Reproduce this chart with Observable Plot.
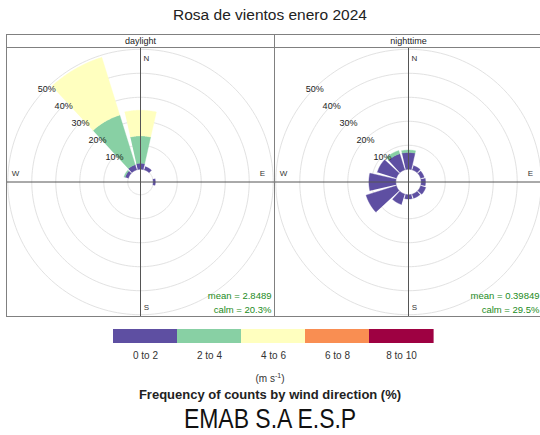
<!DOCTYPE html>
<html><head><meta charset="utf-8">
<script src="https://cdn.jsdelivr.net/npm/d3@7"></script>
<script src="https://cdn.jsdelivr.net/npm/@observablehq/plot@0.6"></script>
<style>
body{margin:0;background:#fff;font-family:"Liberation Sans",Arial,sans-serif;width:540px;height:435px;overflow:hidden;position:relative;color:#222}
.abs{position:absolute;white-space:nowrap}
#legend line{stroke:none}
#legend rect{width:64.6px}
</style></head><body>
<div id="title" class="abs" style="left:0;width:540px;text-align:center;top:7px;font-size:15.5px;line-height:15.5px">Rosa de vientos enero 2024</div>
<div id="p0" class="abs" style="left:5px;top:33px;width:270px"></div>
<div id="p1" class="abs" style="left:273px;top:33px;width:270px"></div>
<div id="legend" class="abs" style="left:111px;top:329px;width:324px"></div>
<div class="abs" style="left:0;width:540px;text-align:center;top:371px;font-size:10px;line-height:10px;color:#333">(m s<sup style="font-size:7px;vertical-align:4px">-1</sup>)</div>
<div class="abs" style="left:0;width:540px;text-align:center;top:388px;font-size:13px;line-height:13px;font-weight:bold">Frequency of counts by wind direction (%)</div>
<div class="abs" style="left:0;width:540px;text-align:center;top:405px;font-size:28px;line-height:28px;color:#111"><span style="display:inline-block;transform:scaleX(0.82)">EMAB S.A E.S.P</span></div>
<script>
// ---- data ----
const directions = [0, 30, 60, 90, 120, 150, 180, 210, 240, 270, 300, 330];
const speedBins = ["0 to 2", "2 to 4", "4 to 6", "6 to 8", "8 to 10"];
const speedColors = ["#5E4FA2", "#88D0A4", "#FFFFBF", "#F98E52", "#9E0142"];
const panels = ["daylight", "nighttime"];
const meanSpeed = ["2.8489", "0.39849"];
const calmPct = ["20.3%", "29.5%"];
const ringPct = [10, 20, 30, 40, 50];
const compass = ["N", "E", "S", "W"];
// frequency (%) by direction, one array per speed bin
const day0to2   = [2.5, 1.4, 0, 0.9, 0, 0, 0, 0, 0, 0, 1.4, 2.2];
const day2to4   = [11.4, 0, 0, 0, 0, 0, 0, 0, 0, 0, 0.5, 21.7];
const day4to6   = [10.7, 0, 0, 0, 0, 0, 0, 0, 0, 0, 0, 25.2];
const night0to2 = [7.0, 1.8, 1.5, 1.8, 2.2, 1.8, 1.8, 4.5, 13.2, 11.2, 8.3, 7.0];
const night2to4 = [1.0, 0, 0, 0, 0, 0, 0, 0, 0, 0, 0, 1.4];
const night4to6 = [0, 0, 0, 0, 0, 0, 0, 0, 0, 0, 0, 0];
const zeros     = [0, 0, 0, 0, 0, 0, 0, 0, 0, 0, 0, 0];
const panelSeries = [
  [day0to2, day2to4, day4to6, zeros, zeros],
  [night0to2, night2to4, night4to6, zeros, zeros]
];

// ---- geometry helpers ----
const K = 2.4;        // px per percent
const OFF = 5.3;      // inner (calm) offset, in percent units
const HALF = 12.75;   // half wedge width (deg)
function polar(r, deg) { const a = deg * Math.PI / 180; return {x: r * Math.sin(a), y: r * Math.cos(a)}; }

const W = 270, H = 284, M = 1;
const plotW = W - 2 * M, plotH = H - 2 * M;
const stripPx = 13;
const centerFromTop = stripPx + (plotH - stripPx) / 2;
const yTop = centerFromTop / K, yBottom = -(plotH - centerFromTop) / K;
const xHalf = plotW / 2 / K;
const stripY = (centerFromTop - stripPx) / K;

const ringPts = [];
for (const p of [0, ...ringPct]) for (let t = 0; t <= 360; t += 2) ringPts.push({ring: p, ...polar(OFF + p, t)});

function wedges(series) {
  const out = [];
  directions.forEach((dir, i) => {
    let cum = 0;
    series.forEach((s, j) => {
      const v = s[i];
      if (v > 0) {
        const lo = cum, hi = cum + v, id = i + "-" + j;
        for (let t = dir - HALF; t <= dir + HALF + 1e-9; t += 0.5) out.push({id, bin: speedBins[j], ...polar(OFF + hi, t)});
        for (let t = dir + HALF; t >= dir - HALF - 1e-9; t -= 0.5) out.push({id, bin: speedBins[j], ...polar(OFF + lo, t)});
        cum = hi;
      }
    });
  });
  return out;
}

const compassPos = {N: [6, 123.5], E: [122, 8.5], S: [6, -125.5], W: [-125, 8.5]};

function panel(i) {
  return Plot.plot({
    width: W, height: H, marginTop: M, marginBottom: M, marginLeft: M, marginRight: M,
    x: {domain: [-xHalf, xHalf], axis: null},
    y: {domain: [yBottom, yTop], axis: null},
    color: {domain: speedBins, range: speedColors},
    style: {fontFamily: "Liberation Sans, Arial, sans-serif", fontSize: "9px", background: "transparent", overflow: "visible"},
    marks: [
      Plot.line(ringPts, {x: "x", y: "y", z: "ring", stroke: "#e2e2e2", strokeWidth: 1}),
      Plot.line(wedges(panelSeries[i]), {x: "x", y: "y", z: "id", fill: "bin", stroke: "bin", strokeWidth: 0.4}),
      Plot.ruleX([0], {y1: yBottom, y2: stripY, stroke: "#555", strokeWidth: 1}),
      Plot.ruleY([0], {stroke: "#555", strokeWidth: 1}),
      Plot.text(ringPct, {x: p => polar(OFF + p, 315).x, y: p => polar(OFF + p, 315).y - 0.6, text: p => p + "%", fontSize: 9, fill: "#222"}),
      Plot.text(compass, {x: d => compassPos[d][0] / K, y: d => compassPos[d][1] / K, text: d => d, fontSize: 8, fill: "#333"}),
      Plot.text([meanSpeed[i]], {x: (plotW / 2 - 3) / K, y: -113.5 / K, text: d => "mean = " + d, textAnchor: "end", fontSize: 9.5, fill: "forestgreen"}),
      Plot.text([calmPct[i]], {x: (plotW / 2 - 3) / K, y: -127.5 / K, text: d => "calm = " + d, textAnchor: "end", fontSize: 9.5, fill: "forestgreen"}),
      Plot.ruleY([stripY], {stroke: "#808080"}),
      Plot.text([panels[i]], {x: 0, y: (stripY + yTop) / 2, text: d => d, fontSize: 9, fill: "#222"}),
      Plot.frame({stroke: "#808080"})
    ]
  });
}

document.getElementById("p0").appendChild(panel(0));
document.getElementById("p1").appendChild(panel(1));

document.getElementById("legend").appendChild(Plot.legend({
  color: {type: "ordinal", domain: speedBins, range: speedColors},
  legend: "ramp", width: 324, height: 30, marginTop: 0, marginBottom: 16, marginLeft: 0, marginRight: 0,
  tickSize: 6, style: {fontFamily: "Liberation Sans, Arial, sans-serif", fontSize: "10px", color: "#333", background: "transparent"}
}));
</script>
</body></html>
